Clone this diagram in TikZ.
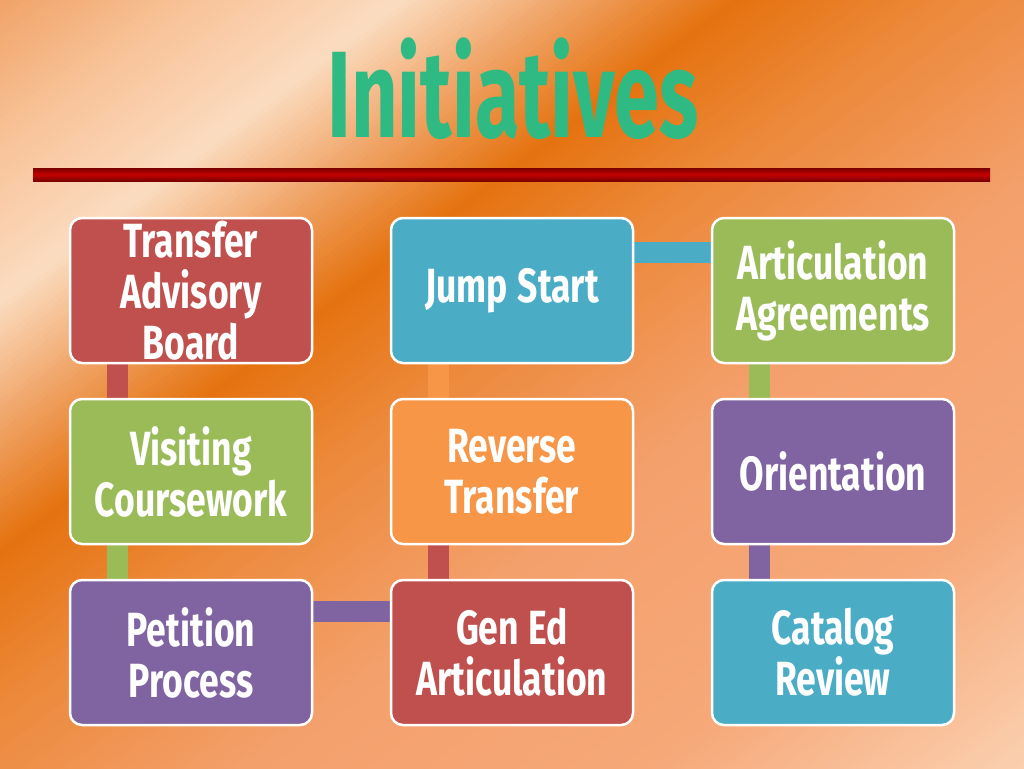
\documentclass[tikz,border=0pt]{standalone}
\usepackage{fontspec}
\newfontfamily\boxfont{Fira Sans}[FakeStretch=0.74]
\newfontfamily\titlefont{Fira Sans}[FakeStretch=0.66]
\definecolor{cred}{HTML}{C0504D}
\definecolor{cblue}{HTML}{4BACC6}
\definecolor{cgreen}{HTML}{9BBB59}
\definecolor{cpurple}{HTML}{8064A2}
\definecolor{corange}{HTML}{F79646}
\definecolor{ctitle}{RGB}{46,186,130}
\definecolor{ldark}{HTML}{7A0000}
\definecolor{lred}{HTML}{C40000}
\definecolor{b0}{HTML}{F0A064}
\definecolor{b1}{HTML}{F8C49A}
\definecolor{b2}{HTML}{FBDCC0}
\definecolor{b3}{HTML}{F0A466}
\definecolor{b4}{HTML}{E5720F}
\definecolor{b5}{HTML}{EC8838}
\definecolor{b6}{HTML}{F4A06C}
\definecolor{b7}{HTML}{F6A878}
\definecolor{b8}{HTML}{FBD2B2}
\pgfdeclarelayer{bglayer}
\pgfdeclarelayer{connlayer}
\pgfsetlayers{bglayer,connlayer,main}
\newcommand\bgseg[4]{%
  \pgfmathtruncatemacro\segn{ceil((#2-#1)/5)}%
  \foreach \k in {1,...,\segn}{%
    \pgfmathsetmacro\ta{#1+(\k-1)*(#2-#1)/\segn}%
    \pgfmathsetmacro\tb{#1+\k*(#2-#1)/\segn+1}%
    \pgfmathtruncatemacro\pc{100*(\k-0.5)/\segn}%
    \fill[fill=#4!\pc!#3] ({0.6*\ta+1200},{0.8*\ta-900}) -- ({0.6*\ta-1200},{0.8*\ta+900}) -- ({0.6*\tb-1200},{0.8*\tb+900}) -- ({0.6*\tb+1200},{0.8*\tb-900}) -- cycle;
  }}
\tikzset{
  box/.style={rounded corners=12pt, draw=white, line width=2.5pt,
    minimum width=242pt, minimum height=145pt, text width=236pt,
    align=center, text=white, inner sep=0pt,
    font=\boxfont\bfseries\fontsize{48}{51}\selectfont,
    execute at begin node={\spaceskip=0.2em\relax}},
  conn/.style={line width=21pt}
}
\begin{document}
\begin{tikzpicture}[x=1pt,y=-1pt]
\useasboundingbox (0,0) rectangle (1024,768);
\begin{pgfonlayer}{bglayer}
\begin{scope}
\clip (0,0) rectangle (1024,768);
\bgseg{-10}{120}{b0}{b1}
\bgseg{120}{240}{b1}{b2}
\bgseg{240}{340}{b2}{b3}
\bgseg{340}{440}{b3}{b4}
\bgseg{440}{560}{b4}{b5}
\bgseg{560}{760}{b5}{b6}
\bgseg{760}{1000}{b6}{b7}
\bgseg{1000}{1240}{b7}{b8}
\end{scope}
\end{pgfonlayer}

\node[anchor=base, text=ctitle, font=\titlefont\bfseries\fontsize{123}{130}\selectfont, inner sep=0pt] (title) at (513,137) {Initiatives};
\shade[top color=ldark, bottom color=ldark, middle color=lred] (33,168) rectangle (990,181);

\node[box, fill=cred]    (tab)    at (191,290.5) {Transfer\\Advisory\\Board};
\node[box, fill=cblue]   (jump)   at (512,290.5) {Jump Start};
\node[box, fill=cgreen]  (artic)  at (833,290.5) {Articulation\\Agreements};
\node[box, fill=cgreen]  (visit)  at (191,471.5) {Visiting\\Coursework};
\node[box, fill=corange] (rev)    at (512,471.5) {Reverse\\Transfer};
\node[box, fill=cpurple] (orient) at (833,471.5) {Orientation};
\node[box, fill=cpurple] (pet)    at (191,652.5) {Petition\\Process};
\node[box, fill=cred]    (gened)  at (512,652.5) {Gen Ed\\Articulation};
\node[box, fill=cblue]   (cat)    at (833,652.5) {Catalog\\Review};

\begin{pgfonlayer}{connlayer}
\draw[conn, cred]    ([xshift=49pt]tab.south west)    -- ([xshift=49pt]visit.north west);
\draw[conn, cgreen]  ([xshift=49pt]visit.south west)  -- ([xshift=49pt]pet.north west);
\draw[conn, cpurple] ([yshift=-33pt]pet.north east)   -- ([yshift=-33pt]gened.north west);
\draw[conn, cred]    ([xshift=49pt]gened.north west)  -- ([xshift=49pt]rev.south west);
\draw[conn, corange] ([xshift=49pt]rev.north west)    -- ([xshift=49pt]jump.south west);
\draw[conn, cblue]   ([yshift=-36pt]jump.north east)  -- ([yshift=-36pt]artic.north west);
\draw[conn, cgreen]  ([xshift=49pt]artic.south west)  -- ([xshift=49pt]orient.north west);
\draw[conn, cpurple] ([xshift=49pt]orient.south west) -- ([xshift=49pt]cat.north west);
\end{pgfonlayer}
\end{tikzpicture}
\end{document}
